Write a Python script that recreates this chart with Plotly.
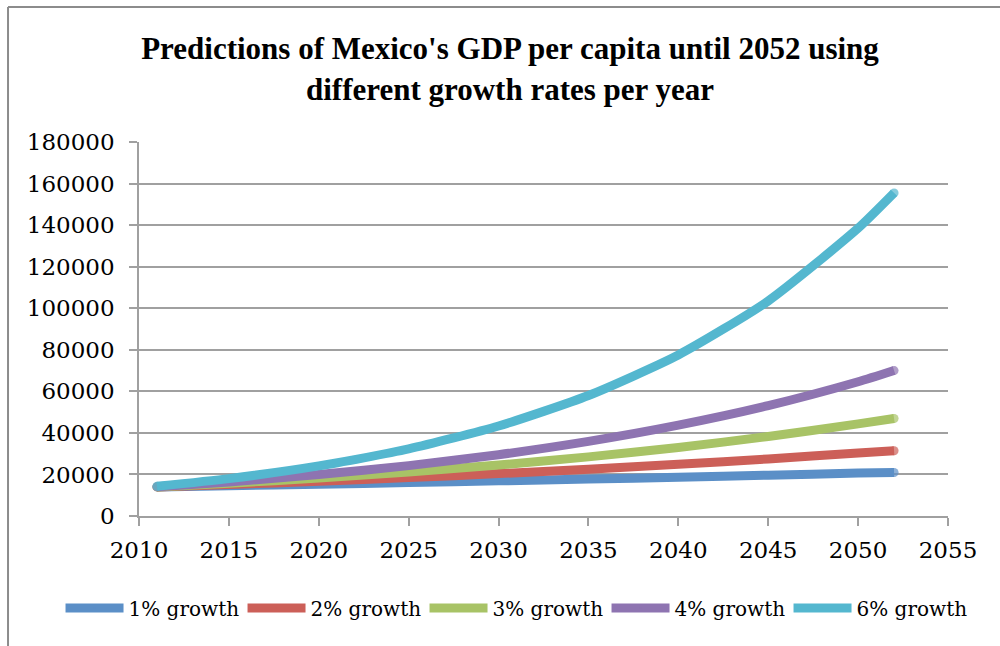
import plotly.graph_objects as go

# Projection years (values are sampled along each curve)
years = [2011, 2015, 2020, 2025, 2030, 2035, 2040, 2045, 2050, 2052]

growth_1 = [14000, 14570, 15310, 16090, 16910, 17780, 18680, 19640, 20640, 20950]
growth_2 = [14000, 15150, 16730, 18470, 20400, 22520, 24860, 27450, 30310, 31400]
growth_3 = [14000, 15760, 18270, 21180, 24550, 28460, 32990, 38250, 44340, 46950]
growth_4 = [14050, 16400, 19950, 24250, 29500, 35900, 43700, 53100, 64600, 70000]
growth_6 = [14300, 18000, 24100, 32300, 43300, 58000, 77500, 103500, 138500, 155500]

series_names = ["1% growth", "2% growth", "3% growth", "4% growth", "6% growth"]
series_values = [growth_1, growth_2, growth_3, growth_4, growth_6]
colors = ["#5B8FC7", "#CC5F58", "#A8C366", "#8E74B1", "#54B7CF"]

title_text = "Predictions of Mexico's GDP per capita until 2052 using<br>different growth rates per year"

fig = go.Figure()
for name, vals, col in zip(series_names, series_values, colors):
    n = len(vals)
    # round end caps: small markers only on the first and last point
    sizes = [9] + [0] * (n - 2) + [9]
    fig.add_trace(go.Scatter(
        x=years, y=vals, name=name, mode="lines+markers",
        line=dict(color=col, width=9, shape="spline", smoothing=0.6),
        marker=dict(color=col, size=sizes, line=dict(width=0)),
    ))

grid = "#A0A0A0"
fig.update_layout(
    width=1000, height=646,
    margin=dict(l=139, r=52, t=142, b=130, autoexpand=False),
    paper_bgcolor="white", plot_bgcolor="white",
    title=dict(text=title_text, x=0.51, xanchor="center", y=0.908, yanchor="middle",
               font=dict(family="Liberation Serif", size=31, color="black", weight="bold")),
    font=dict(family="DejaVu Serif", color="black"),
    showlegend=True,
    legend=dict(orientation="h", x=-0.097, xanchor="left", y=-0.246, yanchor="middle",
                font=dict(family="DejaVu Serif", size=20), itemwidth=58,
                entrywidth=109, entrywidthmode="pixels", tracegroupgap=0,
                bgcolor="rgba(0,0,0,0)"),
    xaxis=dict(range=[2010, 2055], dtick=5, tick0=2010, showgrid=False,
               showline=True, linecolor=grid, linewidth=1.5, ticks="outside",
               ticklen=8, tickcolor=grid, tickwidth=1.5, zeroline=False,
               ticklabelstandoff=5, automargin=False,
               tickfont=dict(family="DejaVu Serif", size=23)),
    yaxis=dict(range=[0, 180000], dtick=20000, showgrid=True, gridcolor=grid,
               gridwidth=1.5, showline=True, linecolor=grid, linewidth=1.5,
               ticks="outside", ticklen=8, tickcolor=grid, tickwidth=1.5,
               zeroline=False, tickformat="d", ticklabelstandoff=10, automargin=False,
               tickfont=dict(family="DejaVu Serif", size=23)),
    shapes=[
        dict(type="line", xref="paper", yref="paper", x0=-0.1619, x1=1.2, y0=1.361, y1=1.361,
             line=dict(color="#8C8C8C", width=2)),
        dict(type="line", xref="paper", yref="paper", x0=-0.1619, x1=-0.1619, y0=-0.5, y1=1.361,
             line=dict(color="#8C8C8C", width=2)),
    ],
)

fig.write_html("out.html")
